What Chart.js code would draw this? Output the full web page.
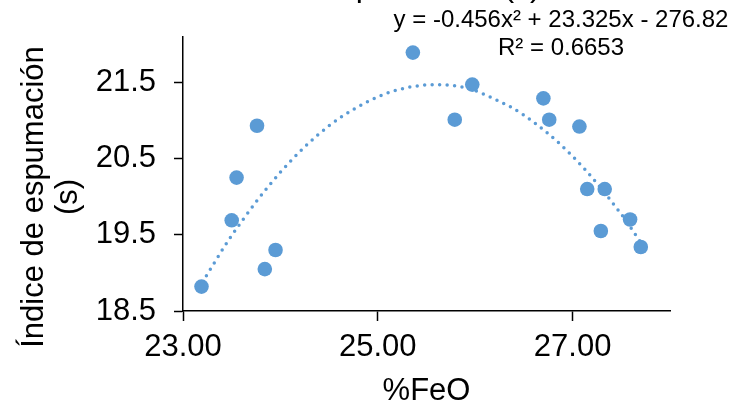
<!DOCTYPE html>
<html>
<head>
<meta charset="utf-8">
<script src="https://cdn.jsdelivr.net/npm/chart.js@4/dist/chart.umd.min.js"></script>
<style>
  body { margin: 0; background: #fff; overflow: hidden; }
</style>
</head>
<body>
<canvas id="grafico" width="734" height="407"></canvas>
<script>
// datos
const feo = [23.19, 23.50, 23.55, 23.76, 23.84, 23.95, 25.36, 25.79, 25.97, 26.70, 26.76, 27.07, 27.15, 27.33, 27.29, 27.59, 27.70];
const indice = [18.82, 19.69, 20.25, 20.93, 19.05, 19.30, 21.89, 21.01, 21.47, 21.29, 21.01, 20.92, 20.10, 20.10, 19.55, 19.70, 19.34];

// linea de tendencia (puntos leidos sobre la curva punteada)
const tendX = [23.2, 23.5, 24.0, 24.5, 25.0, 25.3, 25.6, 25.9, 26.2, 26.5, 27.0, 27.5, 27.7];
const tendY = [18.88, 19.49, 20.32, 20.93, 21.31, 21.43, 21.47, 21.43, 21.28, 21.07, 20.53, 19.77, 19.40];

const ticksX = [23, 25, 27];
const ticksY = [18.5, 19.5, 20.5, 21.5];

const titulo = 'Índice de espumación (s)';
const tituloY = ['Índice de espumación', '(s)'];
const tituloX = '%FeO';
const ecuacion = ['y = -0.456x² + 23.325x - 276.82', 'R² = 0.6653'];

const azul = '#5B9BD5';
const fuente = '"Liberation Sans", Arial, sans-serif';

Chart.defaults.font.family = fuente;
Chart.defaults.color = '#000';

const puntos = [];
for (let i = 0; i < feo.length; i++) {
    puntos.push({ x: feo[i], y: indice[i] });
}

const tendencia = [];
for (let i = 0; i < tendX.length; i++) {
    tendencia.push({ x: tendX[i], y: tendY[i] });
}

const textos = {
    id: 'textos',
    afterDraw(chart) {
        const ctx = chart.ctx;
        ctx.save();
        ctx.fillStyle = '#000';

        // titulo (cortado arriba)
        ctx.font = '32px ' + fuente;
        ctx.textAlign = 'center';
        ctx.textBaseline = 'alphabetic';
        ctx.fillText(titulo, 362, -4);

        // ecuacion de la tendencia
        ctx.font = '24px ' + fuente;
        ctx.textBaseline = 'middle';
        ctx.fillText(ecuacion[0], 561, 20);
        ctx.fillText(ecuacion[1], 561, 48);

        // titulo eje y
        ctx.font = '31px ' + fuente;
        ctx.textBaseline = 'alphabetic';
        ctx.translate(43, 197);
        ctx.rotate(-Math.PI / 2);
        ctx.fillText(tituloY[0], 0, 0);
        ctx.fillText(tituloY[1], 0, 34);
        ctx.restore();
    }
};

new Chart(document.getElementById('grafico'), {
    type: 'scatter',
    data: {
        datasets: [{
            label: 'Tendencia',
            data: tendencia,
            showLine: true,
            borderColor: azul,
            borderWidth: 3.5,
            borderDash: [0, 7.5],
            borderCapStyle: 'round',
            cubicInterpolationMode: 'monotone',
            pointRadius: 0,
            order: 0
        },
        {
            label: 'Índice de espumación',
            data: puntos,
            backgroundColor: azul,
            borderColor: azul,
            borderWidth: 0,
            pointRadius: 7.3,
            order: 1
        }]
    },
    options: {
        responsive: false,
        animation: false,
        devicePixelRatio: 1,
        layout: {
            padding: { top: 33, right: 64, left: 0, bottom: 0 }
        },
        plugins: {
            legend: { display: false },
            tooltip: { enabled: false }
        },
        scales: {
            x: {
                type: 'linear',
                min: 23,
                max: 28,
                afterFit: function (scale) { scale.height = 96; },
                afterBuildTicks: function (scale) {
                    scale.ticks = ticksX.map(v => ({ value: v }));
                },
                ticks: {
                    font: { size: 31 },
                    color: '#000',
                    padding: 8,
                    maxRotation: 0,
                    callback: v => Number(v).toFixed(2)
                },
                grid: {
                    drawOnChartArea: false,
                    drawTicks: true,
                    tickLength: 10,
                    tickWidth: 1.5,
                    tickColor: '#000'
                },
                border: { color: '#000', width: 1.5 },
                title: {
                    display: true,
                    text: tituloX,
                    color: '#000',
                    font: { size: 31, lineHeight: 1 },
                    padding: 0
                }
            },
            y: {
                type: 'linear',
                min: 18.5,
                max: 22.1,
                afterFit: function (scale) { scale.width = 183; },
                afterBuildTicks: function (scale) {
                    scale.ticks = ticksY.map(v => ({ value: v }));
                },
                ticks: {
                    font: { size: 31 },
                    color: '#000',
                    padding: 18,
                    callback: v => Number(v).toFixed(1)
                },
                grid: {
                    drawOnChartArea: false,
                    drawTicks: true,
                    tickLength: 9,
                    tickWidth: 1.5,
                    tickColor: '#000'
                },
                border: { color: '#000', width: 1.5 }
            }
        }
    },
    plugins: [textos]
});
</script>
</body>
</html>
